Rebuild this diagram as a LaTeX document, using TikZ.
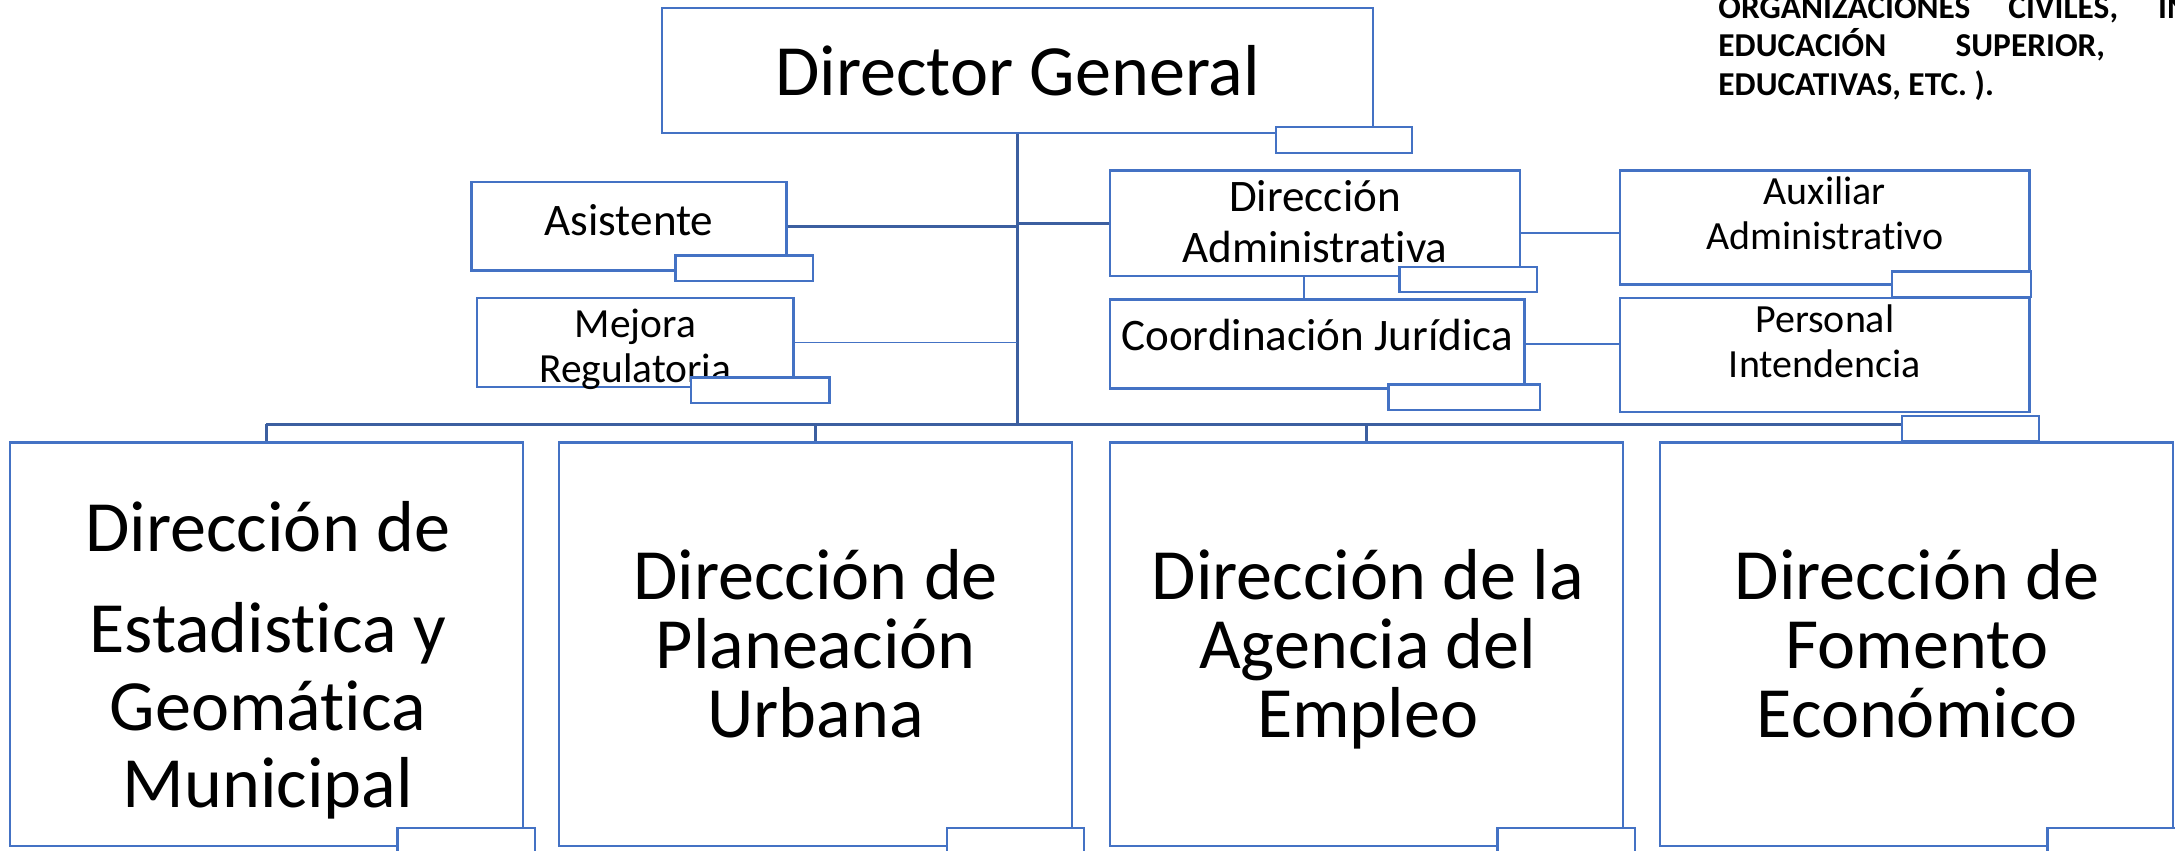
\documentclass[tikz,border=0pt]{standalone}
\usepackage{fontspec}
\setmainfont{Carlito}[Ligatures=NoCommon]
\definecolor{boxblue}{HTML}{4472C4}
\definecolor{linkblue}{HTML}{3C5FA0}

\begin{document}
\begin{tikzpicture}[line width=0.95pt,
  post/.style={draw=boxblue,fill=white,inner sep=0pt},
  tag/.style={post,minimum width=1.98cm,minimum height=0.37cm},
  link/.style={draw=linkblue,line width=1.15pt},
  thinlink/.style={draw=boxblue,line width=0.6pt},
  bigtxt/.style={font=\fontsize{29.6}{28.5}\selectfont,align=center,anchor=base,inner sep=0pt},
  midtxt/.style={font=\fontsize{18.5}{21}\selectfont,align=center,anchor=base,inner sep=0pt},
  smltxt/.style={font=\fontsize{16.4}{18.5}\selectfont,align=center,anchor=base,inner sep=0pt},
  note/.style={font=\bfseries\fontsize{13.7}{16}\selectfont,anchor=base west,inner sep=0pt}]

\useasboundingbox (0.0,0.0) rectangle (31.36,12.26);
\coordinate (bus) at (0.0,6.14);

\node[post,minimum width=10.26cm,minimum height=1.80cm] (dg) at (14.67,11.24) {};
\node[post,minimum width=4.54cm,minimum height=1.28cm] (asis) at (9.07,9.00) {};
\node[post,minimum width=4.56cm,minimum height=1.28cm] (mejora) at (9.16,7.32) {};
\node[post,minimum width=5.92cm,minimum height=1.52cm] (adm) at (18.96,9.04) {};
\node[post,minimum width=5.98cm,minimum height=1.28cm] (jur) at (18.99,7.30) {};
\node[post,minimum width=5.90cm,minimum height=1.64cm] (aux) at (26.31,8.98) {};
\node[post,minimum width=5.90cm,minimum height=1.64cm] (pers) at (26.31,7.14) {};
\node[post,minimum width=7.40cm,minimum height=5.82cm] (b1) at (3.84,2.97) {};
\node[post,minimum width=7.40cm,minimum height=5.82cm] (b2) at (11.76,2.97) {};
\node[post,minimum width=7.40cm,minimum height=5.82cm] (b3) at (19.70,2.97) {};
\node[post,minimum width=7.40cm,minimum height=5.82cm] (b4) at (27.63,2.97) {};

\node[bigtxt] (dgt) at (14.67,10.89) {Director General};
\node[midtxt] (asist) at (9.07,8.87) {Asistente};
\node[smltxt,font=\fontsize{17}{18.8}\selectfont] (mejt) at (9.16,6.74) {Mejora\\Regulatoria};
\node[midtxt] (admt) at (18.96,8.47) {Dirección\\Administrativa};
\node[midtxt] (jurt) at (18.99,7.21) {Coordinación Jurídica};
\node[smltxt] (auxt) at (26.31,8.66) {Auxiliar\\Administrativo};
\node[smltxt] (perst) at (26.31,6.81) {Personal\\Intendencia};
\node[bigtxt] (b1t) at (3.86,0.62) {Dirección de\\[13pt]Estadistica y\\[3.5pt]Geomática\\[3pt]Municipal};
\node[bigtxt] (b2t) at (11.76,1.62) {Dirección de\\Planeación\\Urbana};
\node[bigtxt] (b3t) at (19.72,1.62) {Dirección de la\\Agencia del\\Empleo};
\node[bigtxt] (b4t) at (27.64,1.62) {Dirección de\\Fomento\\Económico};

\node[tag,minimum width=1.96cm] (dgtag) at (19.38,10.24) {};
\node[tag] (asistag) at (10.73,8.39) {};
\node[tag,minimum width=2.00cm] (mejtag) at (10.96,6.63) {};
\node[tag] (admtag) at (21.17,8.23) {};
\node[tag,minimum width=2.18cm] (jurtag) at (21.11,6.53) {};
\node[tag,minimum width=2.00cm] (auxtag) at (28.28,8.16) {};
\node[tag] (perstag) at (28.41,6.08) {};
\node[tag] (b1tag) at (6.72,0.14) {};
\node[tag] (b2tag) at (14.64,0.14) {};
\node[tag] (b3tag) at (22.58,0.14) {};
\node[tag] (b4tag) at (30.51,0.14) {};

\draw[link] (dg.south) -- (dg.south |- bus);
\draw[link] (b1.north |- bus) -- (bus -| perstag.west);
\draw[link] (b1.north |- bus) -- (b1.north);
\draw[link] (b2.north |- bus) -- (b2.north);
\draw[link] (b3.north |- bus) -- (b3.north);
\draw[link] (asis.east) -- (asis.east -| dg.south);
\draw[link] (adm.west) -- (adm.west -| dg.south);
\draw[thinlink] (mejora.east) -- (mejora.east -| dg.south);
\draw[thinlink] ([xshift=-0.16cm]adm.south) -- ([xshift=-0.16cm]adm.south |- jur.north);
\draw[thinlink] ([yshift=-0.14cm]adm.east) -- ([yshift=-0.14cm]adm.east -| aux.west);
\draw[thinlink] (jur.east) -- (jur.east -| pers.west);

\node[note] (n1) at (24.76,12.00) {ORGANIZACIONES};
\node[note] (n2) at (28.94,12.00) {CIVILES,};
\node[note] (n3) at (31.10,12.00) {IN};
\node[note] (n4) at (24.76,11.44) {EDUCACIÓN};
\node[note] (n5) at (28.18,11.44) {SUPERIOR,};
\node[note] (n6) at (24.76,10.89) {EDUCATIVAS, ETC. ).};
\end{tikzpicture}
\end{document}
